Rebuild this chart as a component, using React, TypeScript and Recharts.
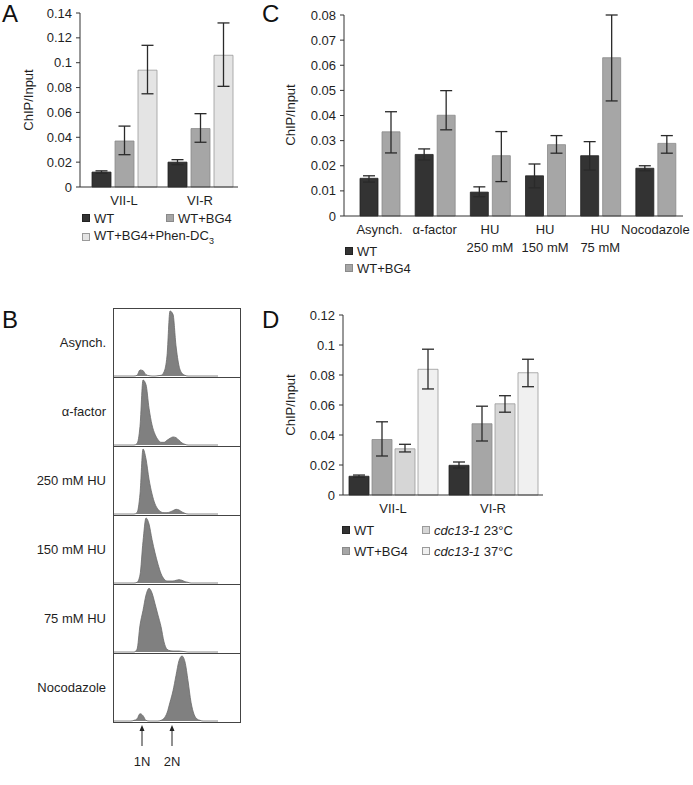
import React from 'react';
import { BarChart, Bar, XAxis, YAxis, ErrorBar, AreaChart, Area } from 'recharts';

const FONT = '"Liberation Sans", Arial, sans-serif';
const INK = '#1f1f1f';

const WT_FILL = '#333333';
const BG4_FILL = '#a6a6a6';
const PALE_FILL = '#e4e4e4';
const C23_FILL = '#d6d6d6';
const C37_FILL = '#f0f0f0';

// panel A
const aSites = ['VII-L', 'VI-R'];
const aWT = [0.012, 0.02];
const aWTRange = [[0.011, 0.013], [0.018, 0.022]];
const aBG4 = [0.037, 0.047];
const aBG4Range = [[0.026, 0.049], [0.036, 0.059]];
const aPhen = [0.094, 0.106];
const aPhenRange = [[0.075, 0.114], [0.081, 0.132]];
const aTicks = [0, 0.02, 0.04, 0.06, 0.08, 0.1, 0.12, 0.14];

// panel C
const cConditions = ['Asynch.', 'α-factor', 'HU\n250 mM', 'HU\n150 mM', 'HU\n75 mM', 'Nocodazole'];
const cWT = [0.015, 0.0245, 0.0095, 0.016, 0.024, 0.019];
const cWTRange = [[0.0135, 0.016], [0.0223, 0.0267], [0.0077, 0.0116], [0.0112, 0.0207], [0.0183, 0.0296], [0.018, 0.02]];
const cBG4 = [0.0335, 0.0401, 0.024, 0.0284, 0.063, 0.0289];
const cBG4Range = [[0.0251, 0.0415], [0.0343, 0.0499], [0.0137, 0.0336], [0.025, 0.032], [0.0458, 0.08], [0.025, 0.032]];
const cTicks = [0, 0.01, 0.02, 0.03, 0.04, 0.05, 0.06, 0.07, 0.08];

// panel D
const dSites = ['VII-L', 'VI-R'];
const dWT = [0.0125, 0.0198];
const dWTRange = [[0.0118, 0.0133], [0.018, 0.022]];
const dBG4 = [0.037, 0.0475];
const dBG4Range = [[0.026, 0.0488], [0.036, 0.0592]];
const dC23 = [0.0308, 0.0608];
const dC23Range = [[0.0287, 0.0338], [0.0552, 0.0662]];
const dC37 = [0.0838, 0.0815];
const dC37Range = [[0.0707, 0.0972], [0.0722, 0.0905]];
const dTicks = [0, 0.02, 0.04, 0.06, 0.08, 0.1, 0.12];

// panel B (flow cytometry, DNA content channel vs cell count)
const fcsRows = ['Asynch.', 'α-factor', '250 mM HU', '150 mM HU', '75 mM HU', 'Nocodazole'];
const fcsChannel = [0, 3, 6, 9, 12, 15, 18, 21, 24, 27, 30, 33, 36, 39, 42, 45, 48, 51, 54, 57, 60, 63, 66, 69, 72, 75, 78, 81, 84, 87, 90, 93, 96, 99, 102, 105];
const fcsAsynch = [0, 0, 0, 0, 0, 0, 0, 0, 1, 9, 8, 2, 0.5, 0, 0, 0.5, 1, 6, 30, 97, 92, 45, 15, 4, 1, 0, 0, 0, 0, 0, 0, 0, 0, 0, 0, 0];
const fcsAlpha = [0, 0, 0, 0, 0, 0, 0, 0, 2, 28, 97, 90, 55, 30, 16, 8, 4, 4, 7, 10, 12, 11, 7, 3, 1, 0, 0, 0, 0, 0, 0, 0, 0, 0, 0, 0];
const fcsHU250 = [0, 0, 0, 0, 0, 0, 0, 0, 2, 30, 97, 82, 52, 30, 15, 7, 3, 2, 2, 3, 5, 7, 6, 3, 1, 0, 0, 0, 0, 0, 0, 0, 0, 0, 0, 0];
const fcsHU150 = [0, 0, 0, 0, 0, 0, 0, 0, 1, 12, 62, 97, 88, 65, 45, 28, 14, 6, 3, 3, 3, 4, 5, 4, 2, 1, 0, 0, 0, 0, 0, 0, 0, 0, 0, 0];
const fcsHU75 = [0, 0, 0, 0, 0, 0, 0, 0, 4, 40, 62, 85, 95, 88, 72, 55, 38, 15, 4, 2, 1.5, 1.5, 1.5, 1, 0.5, 0, 0, 0, 0, 0, 0, 0, 0, 0, 0, 0];
const fcsNoc = [0, 0, 0, 0, 0, 0, 0, 1, 3, 11, 8, 1, 0, 0, 0, 0, 1, 4, 12, 28, 45, 68, 90, 97, 88, 60, 28, 10, 3, 1, 0, 0, 0, 0, 0, 0];
const fcsCounts = [fcsAsynch, fcsAlpha, fcsHU250, fcsHU150, fcsHU75, fcsNoc];

const err = (v: number, r: number[]) => [v - r[0], r[1] - v];

const aData = aSites.map((site, i) => ({
  site,
  wt: aWT[i], wtErr: err(aWT[i], aWTRange[i]),
  bg4: aBG4[i], bg4Err: err(aBG4[i], aBG4Range[i]),
  phen: aPhen[i], phenErr: err(aPhen[i], aPhenRange[i]),
}));

const cData = cConditions.map((cond, i) => ({
  cond,
  wt: cWT[i], wtErr: err(cWT[i], cWTRange[i]),
  bg4: cBG4[i], bg4Err: err(cBG4[i], cBG4Range[i]),
}));

const dData = dSites.map((site, i) => ({
  site,
  wt: dWT[i], wtErr: err(dWT[i], dWTRange[i]),
  bg4: dBG4[i], bg4Err: err(dBG4[i], dBG4Range[i]),
  c23: dC23[i], c23Err: err(dC23[i], dC23Range[i]),
  c37: dC37[i], c37Err: err(dC37[i], dC37Range[i]),
}));

const tickStyle = { fontSize: 13, fill: INK, fontFamily: FONT };

const CatTick = (props: any) => {
  const { x, y, payload } = props;
  const lines = String(payload.value).split('\n');
  return (
    <text x={x} y={y + 16} textAnchor="middle" fontSize={13} fill={INK} fontFamily={FONT}>
      {lines.map((l, i) => (
        <tspan key={i} x={x} dy={i === 0 ? 0 : 18}>{l}</tspan>
      ))}
    </text>
  );
};

const errBar = (key: string) => (
  <ErrorBar dataKey={key} width={6} stroke="#2a2a2a" strokeWidth={1.3} direction="y" isAnimationActive={false} />
);

const Swatch = ({ x, y, fill, stroke, children }: any) => (
  <div style={{ position: 'absolute', left: x, top: y - 8, height: 16, display: 'flex', alignItems: 'center', fontSize: 13, color: INK, whiteSpace: 'nowrap' }}>
    <span style={{ display: 'inline-block', width: 6, height: 6, background: fill, border: `1px solid ${stroke}`, marginRight: 4 }} />
    <span>{children}</span>
  </div>
);

const PanelLetter = ({ x, y, children }: any) => (
  <text x={x} y={y} fontSize={24} fill="#111" fontFamily={FONT}>{children}</text>
);

const YTitle = ({ x, y }: any) => (
  <text x={x} y={y} transform={`rotate(-90 ${x} ${y})`} textAnchor="middle" dominantBaseline="central" fontSize={13} fill={INK} fontFamily={FONT}>ChIP/Input</text>
);

export default function App() {
  const rowTop = 308;
  const rowH = 69;
  return (
    <div style={{ position: 'absolute', left: 0, top: 0, width: 693, height: 785, background: '#fff', fontFamily: FONT }}>
      {/* A */}
      <div style={{ position: 'absolute', left: 0, top: 0 }}>
        <BarChart width={260} height={210} data={aData} margin={{ top: 13, right: 22, left: 0, bottom: 0 }} barSize={19} barGap={4}>
          <XAxis dataKey="site" stroke="#333" tickLine={false} tickSize={0} height={23} padding={{ left: 6, right: 0 }} tick={<CatTick />} interval={0} />
          <YAxis domain={[0, 0.14]} ticks={aTicks} width={80} stroke="#333" tickSize={4} tickMargin={4} tick={tickStyle} />
          <Bar dataKey="wt" fill={WT_FILL} stroke="#222" strokeWidth={0.8} isAnimationActive={false}>{errBar('wtErr')}</Bar>
          <Bar dataKey="bg4" fill={BG4_FILL} stroke="#8a8a8a" strokeWidth={0.8} isAnimationActive={false}>{errBar('bg4Err')}</Bar>
          <Bar dataKey="phen" fill={PALE_FILL} stroke="#9a9a9a" strokeWidth={0.8} isAnimationActive={false}>{errBar('phenErr')}</Bar>
        </BarChart>
      </div>

      {/* C */}
      <div style={{ position: 'absolute', left: 260, top: 0 }}>
        <BarChart width={433} height={262} data={cData} margin={{ top: 15, right: 10, left: 0, bottom: 8 }} barSize={18} barGap={4}>
          <XAxis dataKey="cond" stroke="#333" tickLine={false} tickSize={0} height={38} padding={{ left: 8, right: 0 }} tick={<CatTick />} interval={0} />
          <YAxis domain={[0, 0.08]} ticks={cTicks} width={84} stroke="#333" tickSize={4} tickMargin={4} tick={tickStyle} />
          <Bar dataKey="wt" fill={WT_FILL} stroke="#222" strokeWidth={0.8} isAnimationActive={false}>{errBar('wtErr')}</Bar>
          <Bar dataKey="bg4" fill={BG4_FILL} stroke="#8a8a8a" strokeWidth={0.8} isAnimationActive={false}>{errBar('bg4Err')}</Bar>
        </BarChart>
      </div>

      {/* D */}
      <div style={{ position: 'absolute', left: 260, top: 300 }}>
        <BarChart width={300} height={240} data={dData} margin={{ top: 15, right: 17, left: 0, bottom: 22 }} barSize={20} barGap={3}>
          <XAxis dataKey="site" stroke="#333" tickLine={false} tickSize={0} height={23} tick={<CatTick />} interval={0} />
          <YAxis domain={[0, 0.12]} ticks={dTicks} width={83} stroke="#333" tickSize={4} tickMargin={4} tick={tickStyle} />
          <Bar dataKey="wt" fill={WT_FILL} stroke="#222" strokeWidth={0.8} isAnimationActive={false}>{errBar('wtErr')}</Bar>
          <Bar dataKey="bg4" fill={BG4_FILL} stroke="#8a8a8a" strokeWidth={0.8} isAnimationActive={false}>{errBar('bg4Err')}</Bar>
          <Bar dataKey="c23" fill={C23_FILL} stroke="#9a9a9a" strokeWidth={0.8} isAnimationActive={false}>{errBar('c23Err')}</Bar>
          <Bar dataKey="c37" fill={C37_FILL} stroke="#9a9a9a" strokeWidth={0.8} isAnimationActive={false}>{errBar('c37Err')}</Bar>
        </BarChart>
      </div>

      {/* B histograms */}
      {fcsRows.map((name, r) => (
        <div key={name} style={{ position: 'absolute', left: 113, top: rowTop + r * rowH }}>
          <AreaChart width={127} height={rowH} data={fcsChannel.map((ch, i) => ({ ch, n: fcsCounts[r][i] }))} margin={{ top: 1, right: 0, left: 0, bottom: 1 }}>
            <XAxis type="number" dataKey="ch" domain={[0, 127]} hide />
            <YAxis domain={[0, 100]} hide />
            <Area type="monotone" dataKey="n" stroke="#6a6a6a" strokeWidth={0.8} fill="#808080" fillOpacity={1} isAnimationActive={false} />
          </AreaChart>
        </div>
      ))}

      <svg width={693} height={785} style={{ position: 'absolute', left: 0, top: 0, pointerEvents: 'none' }}>
        <PanelLetter x={2} y={22}>A</PanelLetter>
        <PanelLetter x={2} y={328}>B</PanelLetter>
        <PanelLetter x={262} y={22}>C</PanelLetter>
        <PanelLetter x={262} y={328}>D</PanelLetter>
        <YTitle x={28} y={100} />
        <YTitle x={290} y={115} />
        <YTitle x={290} y={405} />

        <rect x={113.5} y={rowTop + 0.5} width={127} height={rowH * 6} fill="none" stroke="#444" strokeWidth={1} />
        {fcsRows.map((name, r) => (
          <g key={name}>
            {r > 0 && <line x1={113} x2={241} y1={rowTop + r * rowH + 0.5} y2={rowTop + r * rowH + 0.5} stroke="#444" />}
            <text x={106} y={rowTop + r * rowH + rowH / 2} textAnchor="end" dominantBaseline="central" fontSize={13} fill={INK} fontFamily={FONT}>{name}</text>
          </g>
        ))}
        {[{ x: 142, t: '1N' }, { x: 172, t: '2N' }].map((a) => (
          <g key={a.t}>
            <line x1={a.x} x2={a.x} y1={746} y2={729} stroke="#222" strokeWidth={1} />
            <path d={`M${a.x - 2.5},${731} L${a.x},${725} L${a.x + 2.5},${731} Z`} fill="#222" />
            <text x={a.x} y={761} textAnchor="middle" dominantBaseline="central" fontSize={13} fill={INK} fontFamily={FONT}>{a.t}</text>
          </g>
        ))}
      </svg>

      <Swatch x={82} y={218} fill={WT_FILL} stroke="#222">WT</Swatch>
      <Swatch x={166} y={218} fill={BG4_FILL} stroke="#8a8a8a">WT+BG4</Swatch>
      <Swatch x={82} y={237} fill={PALE_FILL} stroke="#9a9a9a">WT+BG4+Phen-DC<sub style={{ fontSize: 9 }}>3</sub></Swatch>

      <Swatch x={345} y={251} fill={WT_FILL} stroke="#222">WT</Swatch>
      <Swatch x={345} y={268} fill={BG4_FILL} stroke="#8a8a8a">WT+BG4</Swatch>

      <Swatch x={342} y={530} fill={WT_FILL} stroke="#222">WT</Swatch>
      <Swatch x={342} y={551} fill={BG4_FILL} stroke="#8a8a8a">WT+BG4</Swatch>
      <Swatch x={422} y={530} fill={C23_FILL} stroke="#9a9a9a"><i>cdc13-1</i> 23°C</Swatch>
      <Swatch x={422} y={551} fill={C37_FILL} stroke="#9a9a9a"><i>cdc13-1</i> 37°C</Swatch>
    </div>
  );
}
